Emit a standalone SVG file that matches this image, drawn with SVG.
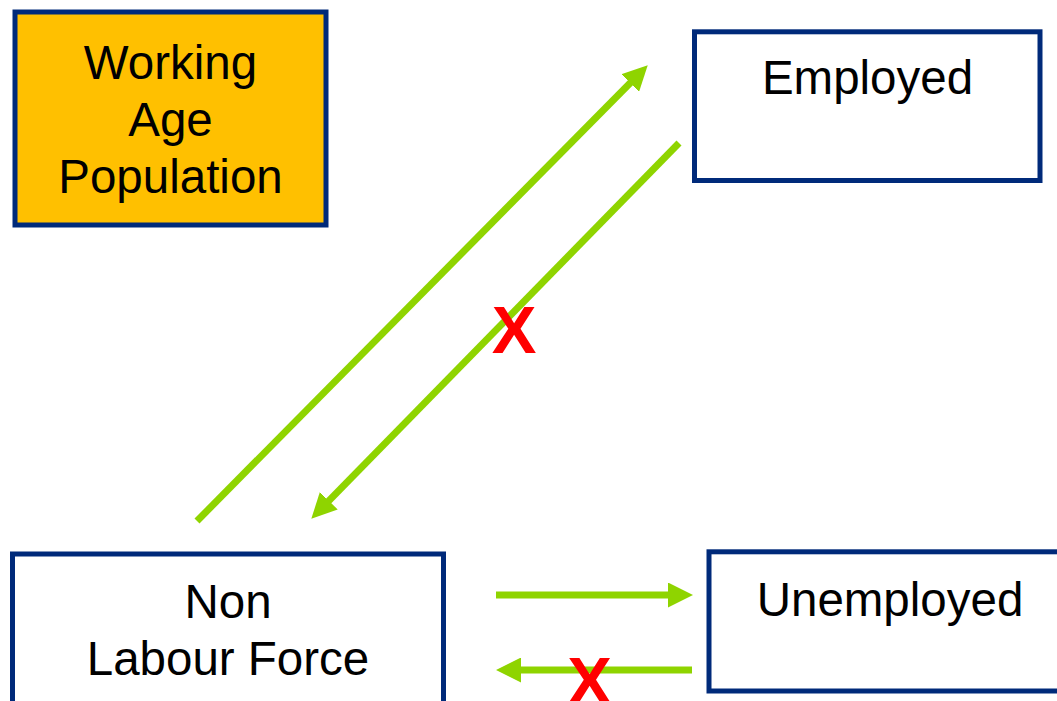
<svg xmlns="http://www.w3.org/2000/svg" width="1057" height="701" viewBox="0 0 1057 701">
<style>
.box{fill:#FFFFFF;stroke:#002A7A;stroke-width:5}
.gold{fill:#FFC000}
.lbl{font-family:"Liberation Sans",Arial,sans-serif;font-size:47.5px;fill:#000000;text-anchor:middle}
.conn{stroke:#8FD400;stroke-width:7;fill:none}
.x{font-family:"Liberation Sans",Arial,sans-serif;font-weight:bold;font-size:67px;fill:#FF0000;text-anchor:middle}
</style>
<defs>
<marker id="ah" markerUnits="userSpaceOnUse" markerWidth="25" markerHeight="25" refX="12" refY="12.5" orient="auto" viewBox="0 0 25 25">
<path d="M0,0 L25,12.5 L0,25 Z" fill="#8FD400"/>
</marker>
</defs>
<rect width="1057" height="701" fill="#FFFFFF"/>
<g id="working-age">
<rect class="box gold" x="15" y="12" width="311" height="213"/>
<text class="lbl" x="170.5" y="79">Working</text>
<text class="lbl" x="170.5" y="136">Age</text>
<text class="lbl" x="170.5" y="193">Population</text>
</g>
<g id="employed">
<rect class="box" x="694.5" y="31.8" width="345.5" height="148.7"/>
<text class="lbl" x="867.5" y="94">Employed</text>
</g>
<g id="non-labour-force">
<rect class="box" x="12.5" y="554" width="431" height="160"/>
<text class="lbl" x="228" y="618">Non</text>
<text class="lbl" x="228" y="675">Labour Force</text>
</g>
<g id="unemployed">
<rect class="box" x="709" y="551.8" width="362" height="139.2"/>
<text class="lbl" x="890" y="616">Unemployed</text>
</g>
<g id="connectors">
<path class="conn" d="M197,521 L638.6,74.5" marker-end="url(#ah)"/>
<path class="conn" d="M679,143 L320.4,509.4" marker-end="url(#ah)"/>
<path class="conn" d="M496,595 L680,595" marker-end="url(#ah)"/>
<path class="conn" d="M692,670 L509,670" marker-end="url(#ah)"/>
</g>
<g id="blocked-marks">
<text class="x" x="514" y="353">X</text>
<text class="x" x="589.5" y="704">X</text>
</g>
</svg>
